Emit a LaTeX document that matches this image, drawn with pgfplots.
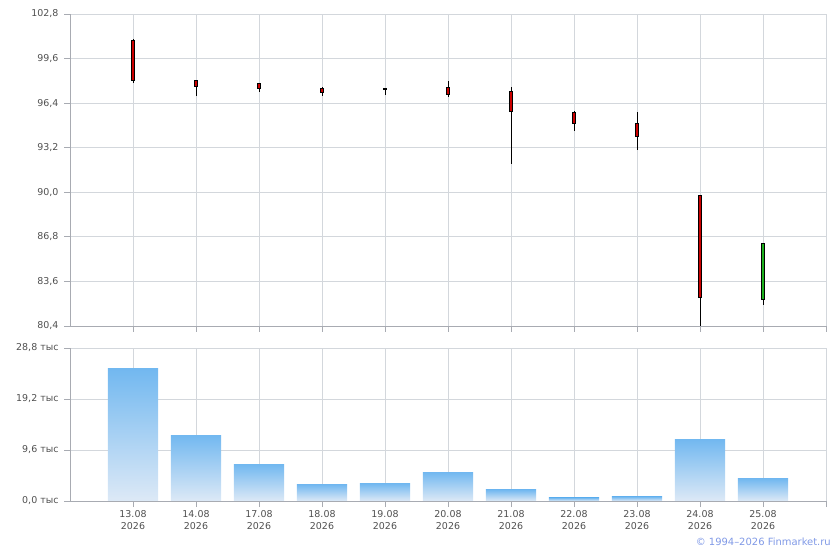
\documentclass[border=0pt]{standalone}
\usepackage{pgfplots}
\pgfplotsset{compat=1.18}
\usepackage{fontspec}
\setmainfont{DejaVu Sans}
\definecolor{gridc}{HTML}{D3D7DC}
\definecolor{axc}{HTML}{A8ABB2}
\definecolor{lblc}{HTML}{505050}
\definecolor{candred}{HTML}{CC0000}
\definecolor{candgreen}{HTML}{1DB01D}
\definecolor{bartop}{HTML}{72B8F0}
\definecolor{barbot}{HTML}{DDE9F6}
\definecolor{copyc}{HTML}{8099E6}
\pgfplotsset{
  common/.style={
    scale only axis, width=756bp, xmin=-1, xmax=11,
    axis x line*=bottom, axis y line*=left,
    xmajorgrids, ymajorgrids,
    grid style={gridc, line width=0.8bp},
    axis line style={-, axc, line width=0.8bp},
    tick style={axc, line width=0.8bp},
    tick align=outside, major tick length=6bp,
    xtick={0,...,11},
    ticklabel style={font=\fontsize{9.5}{12}\selectfont, text=lblc},
    yticklabel style={xshift=-2bp},
    /pgf/number format/assume math mode=true,
  },
  wick/.style={black, line width=0.8bp, mark=none},
  body/.style={draw=black, line width=0.8bp, mark=none, fill=#1},
  vol/.style={ybar, bar shift=0pt, bar width=0.794, draw=none, top color=bartop, bottom color=barbot},
}
\begin{document}
\begin{tikzpicture}
\useasboundingbox (0,0) rectangle (840bp,550bp);
\begin{axis}[common, at={(70bp,224bp)}, anchor=south west, height=312bp,
  ymin=80.4, ymax=102.8,
  ytick={80.4,83.6,86.8,90.0,93.2,96.4,99.6,102.8},
  yticklabel style={/pgf/number format/.cd, use comma, fixed, fixed zerofill, precision=1},
  xticklabels={}]
% 13.08
\addplot[wick] coordinates {(0,97.83) (0,101.00)};
\addplot[body=candred] coordinates {(-0.03,98.01) (0.03,98.01) (0.03,100.93) (-0.03,100.93)} -- cycle;
% 14.08
\addplot[wick] coordinates {(1,96.94) (1,98.05)};
\addplot[body=candred] coordinates {(0.97,97.58) (1.03,97.58) (1.03,98.04) (0.97,98.04)} -- cycle;
% 17.08
\addplot[wick] coordinates {(2,97.22) (2,97.85)};
\addplot[body=candred] coordinates {(1.97,97.44) (2.03,97.44) (2.03,97.83) (1.97,97.83)} -- cycle;
% 18.08
\addplot[wick] coordinates {(3,96.94) (3,97.54)};
\addplot[body=candred] coordinates {(2.97,97.15) (3.03,97.15) (3.03,97.49) (2.97,97.49)} -- cycle;
% 19.08
\addplot[wick] coordinates {(4,97.00) (4,97.48)};
\addplot[body=candred] coordinates {(3.97,97.37) (4.03,97.37) (4.03,97.47) (3.97,97.47)} -- cycle;
% 20.08
\addplot[wick] coordinates {(5,96.86) (5,97.97)};
\addplot[body=candred] coordinates {(4.97,97.04) (5.03,97.04) (5.03,97.54) (4.97,97.54)} -- cycle;
% 21.08
\addplot[wick] coordinates {(6,92.05) (6,97.54)};
\addplot[body=candred] coordinates {(5.97,95.79) (6.03,95.79) (6.03,97.25) (5.97,97.25)} -- cycle;
% 22.08
\addplot[wick] coordinates {(7,94.42) (7,95.81)};
\addplot[body=candred] coordinates {(6.97,94.95) (7.03,94.95) (7.03,95.74) (6.97,95.74)} -- cycle;
% 23.08
\addplot[wick] coordinates {(8,93.06) (8,95.74)};
\addplot[body=candred] coordinates {(7.97,94.02) (8.03,94.02) (8.03,94.95) (7.97,94.95)} -- cycle;
% 24.08
\addplot[wick] coordinates {(9,80.42) (9,89.80)};
\addplot[body=candred] coordinates {(8.97,82.43) (9.03,82.43) (9.03,89.78) (8.97,89.78)} -- cycle;
% 25.08
\addplot[wick] coordinates {(10,81.93) (10,86.36)};
\addplot[body=candgreen] coordinates {(9.97,82.32) (10.03,82.32) (10.03,86.34) (9.97,86.34)} -- cycle;
\end{axis}
\begin{axis}[common, at={(70bp,49bp)}, anchor=south west, height=153bp,
  ymin=0, ymax=28.8,
  ytick={0,9.6,19.2,28.8},
  yticklabels={{0,0 тыс},{9,6 тыс},{19,2 тыс},{28,8 тыс}},
  xticklabels={{13.08\\2026},{14.08\\2026},{17.08\\2026},{18.08\\2026},{19.08\\2026},{20.08\\2026},{21.08\\2026},{22.08\\2026},{23.08\\2026},{24.08\\2026},{25.08\\2026},{}},
  xticklabel style={align=center}]
\addplot[vol] coordinates {(0,24.9)};
\addplot[vol] coordinates {(1,12.4)};
\addplot[vol] coordinates {(2,6.9)};
\addplot[vol] coordinates {(3,3.1)};
\addplot[vol] coordinates {(4,3.3)};
\addplot[vol] coordinates {(5,5.4)};
\addplot[vol] coordinates {(6,2.1)};
\addplot[vol] coordinates {(7,0.6)};
\addplot[vol] coordinates {(8,0.8)};
\addplot[vol] coordinates {(9,11.6)};
\addplot[vol] coordinates {(10,4.2)};
\end{axis}
\node[anchor=east, text=copyc, font=\fontsize{10}{11}\selectfont, inner sep=0pt] at (831bp,8bp) {© 1994–2026 Finmarket.ru};
\end{tikzpicture}
\end{document}
